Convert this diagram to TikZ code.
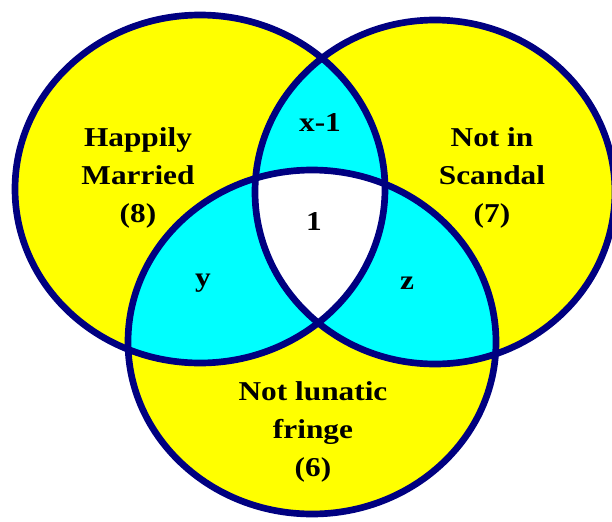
\documentclass[tikz,border=0pt]{standalone}
\usepackage{fontspec}
\setmainfont{Liberation Serif}
\usetikzlibrary{positioning}
\definecolor{ringblue}{HTML}{000080}
\definecolor{setyellow}{HTML}{FFFF00}
\definecolor{setcyan}{HTML}{00FFFF}
\tikzset{
  ring/.style={draw=ringblue, line width=3.8pt},
  lbl/.style={font=\fontsize{15.5}{21.5}\selectfont\bfseries, align=center, inner sep=0pt, xscale=1.15}}

\begin{document}
\begin{tikzpicture}[x=0.02cm,y=-0.02cm]
\useasboundingbox (0,0) rectangle (612,521);
\coordinate (married) at (200,189);
\coordinate (scandal) at (435,192);
\coordinate (fringe) at (312,342);
\def\setM{(married) ellipse [x radius=185, y radius=174]}
\def\setS{(scandal) ellipse [x radius=180, y radius=172]}
\def\setF{(fringe) ellipse [x radius=184, y radius=172]}
% one set only
\fill [setyellow] \setM;
\fill [setyellow] \setS;
\fill [setyellow] \setF;
% two sets
\begin{scope}
  \clip \setM;
  \fill [setcyan] \setS;
  \fill [setcyan] \setF;
\end{scope}
\begin{scope}
  \clip \setS;
  \fill [setcyan] \setF;
\end{scope}
% all three
\begin{scope}
  \clip \setM;
  \clip \setS;
  \fill [white] \setF;
\end{scope}
\draw [ring] \setM;
\draw [ring] \setS;
\draw [ring] \setF;
\node [lbl] (m) at (138,178) {Happily\\Married\\(8)};
\node [lbl] (s) at (492,178) {Not in\\Scandal\\(7)};
\node [lbl] (f) at (313,432) {Not lunatic\\fringe\\(6)};
\node [lbl] (ms) at (320,123) {x-1};
\node [lbl] (msf) at (314,222) {1};
\node [lbl] (mf) at (203,283) {y};
\node [lbl] (sf) at (407,283) {z};
\end{tikzpicture}
\end{document}
